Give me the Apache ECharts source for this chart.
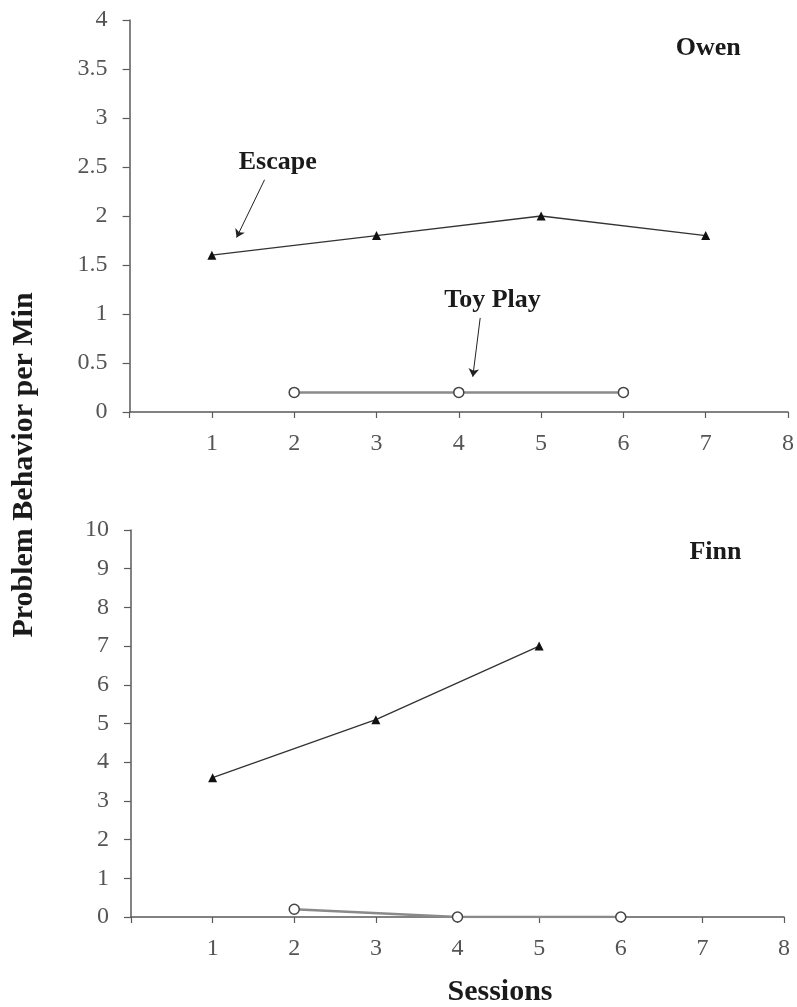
<!DOCTYPE html>
<html><head><meta charset="utf-8">
<script src="https://cdn.jsdelivr.net/npm/echarts@6/dist/echarts.min.js"></script>
<style>html,body{margin:0;padding:0;background:#fff}#c{width:797px;height:1007px}</style>
</head><body><div id="c"></div>
<script>
const owenEscape = [[1,1.6],[3,1.8],[5,2.0],[7,1.8]];
const owenToy = [[2,0.2],[4,0.2],[6,0.2]];
const finnEscape = [[1,3.6],[3,5.1],[5,7.0]];
const finnToy = [[2,0.2],[4,0],[6,0]];
const xTicks = [1,2,3,4,5,6,7,8];
const yTitle = 'Problem Behavior per Min';
const xTitle = 'Sessions';
const panelNames = ['Owen','Finn'];
const seriesNames = ['Escape','Toy Play'];

const FONT = '"Liberation Serif", "DejaVu Serif", serif';
const axisCol = '#5a5a5a';
const chart = echarts.init(document.getElementById('c'), null, {renderer:'canvas'});

function xAxisCfg(gi){
  return {type:'value', gridIndex:gi, min:0, max:8, interval:1,
    axisLine:{show:true, onZero:false, lineStyle:{color:axisCol, width:1.5}},
    axisTick:{show:true, length:6, lineStyle:{color:axisCol, width:1.2}},
    splitLine:{show:false},
    axisLabel:{margin:20, fontFamily:FONT, fontSize:24, color:'#555',
      formatter:v=> xTicks.indexOf(v)>=0 ? String(v) : ''}};
}
function yAxisCfg(gi,max,intv){
  return {type:'value', gridIndex:gi, min:0, max:max, interval:intv,
    axisLine:{show:true, lineStyle:{color:axisCol, width:1.5}},
    axisTick:{show:true, length:7, lineStyle:{color:axisCol, width:1.2}},
    splitLine:{show:false},
    axisLabel:{margin:22, fontFamily:FONT, fontSize:24, color:'#555'}};
}
const lblStyle = {fontFamily:FONT, fontSize:26, fontWeight:'bold', color:'#1a1a1a'};
function textPoint(coord, text){
  return {coord:coord, symbol:'circle', symbolSize:0, itemStyle:{color:'transparent'},
    label:{show:true, position:'inside', formatter:text, ...lblStyle}};
}
function escSeries(xi, data, extra){
  return Object.assign({type:'line', name:seriesNames[0], xAxisIndex:xi, yAxisIndex:xi, data:data,
    symbol:'triangle', symbolSize:9, itemStyle:{color:'#111'},
    lineStyle:{color:'#333', width:1.3}, z:5, animation:false}, extra||{});
}
function toySeries(xi, data, extra){
  return Object.assign({type:'line', name:seriesNames[1], xAxisIndex:xi, yAxisIndex:xi, data:data,
    symbol:'circle', symbolSize:10, itemStyle:{color:'#fff', borderColor:'#444', borderWidth:1.5},
    lineStyle:{color:'#8a8a8a', width:2.5}, z:4, animation:false}, extra||{});
}
const arrowLine = (a,b)=>({symbol:['none','arrow'], symbolSize:8, silent:true, animation:false,
  lineStyle:{color:'#222', width:1, type:'solid'}, label:{show:false},
  data:[[{coord:a},{coord:b}]]});

const option = {
  backgroundColor:'#fff',
  animation:false,
  grid:[
    {left:129.6, right:9, top:20, height:392},
    {left:131, right:13, top:530, height:387}
  ],
  xAxis:[xAxisCfg(0), xAxisCfg(1)],
  yAxis:[yAxisCfg(0,4,0.5), yAxisCfg(1,10,1)],
  series:[
    toySeries(0, owenToy, {
      markLine:arrowLine([4.26,0.96],[4.17,0.36]),
      markPoint:{animation:false, data:[textPoint([4.41,1.14], seriesNames[1])]}
    }),
    escSeries(0, owenEscape, {
      markLine:arrowLine([1.64,2.37],[1.30,1.78]),
      markPoint:{animation:false, data:[textPoint([1.80,2.55], seriesNames[0]), textPoint([7.03,3.71], panelNames[0])]}
    }),
    toySeries(1, finnToy),
    escSeries(1, finnEscape, {
      markPoint:{animation:false, data:[textPoint([7.16,9.43], panelNames[1])]}
    })
  ],
  graphic:[
    {type:'text', rotation:Math.PI/2, x:24, y:465,
      style:{text:yTitle, font:'bold 30px '+FONT, fill:'#1a1a1a', textAlign:'center', textVerticalAlign:'middle'}},
    {type:'text', x:500, y:992,
      style:{text:xTitle, font:'bold 30px '+FONT, fill:'#1a1a1a', textAlign:'center', textVerticalAlign:'middle'}}
  ]
};
chart.setOption(option);
</script></body></html>
